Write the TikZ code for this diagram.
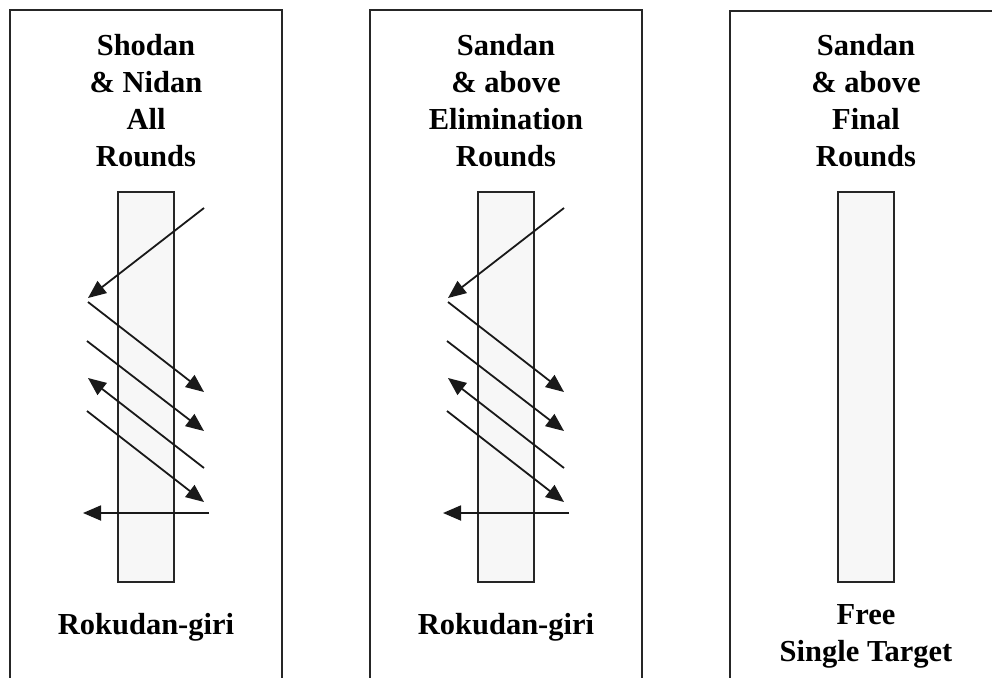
\documentclass[tikz,border=0pt]{standalone}
\usepackage{fontspec}
\setmainfont{Liberation Serif}
\usetikzlibrary{arrows.meta,positioning}
\tikzset{%
  >={Triangle[length=18pt,width=15pt]},
  % Specifications for style of nodes:
      panel/.style = {rectangle, draw=black!85, line width=2pt,
                      minimum width=272pt, minimum height=720pt,
                      anchor=north},
     target/.style = {rectangle, draw=black!85, line width=2.2pt,
                      fill=black!3, minimum width=56pt,
                      minimum height=390pt},
    caption/.style = {align=center, inner sep=0pt, anchor=base,
                      font=\bfseries\fontsize{30.5}{37}\selectfont},
        cut/.style = {->, line width=1.8pt, draw=black!90},
}

\begin{document}
\begin{tikzpicture}[x=1pt, y=-1pt]
  \useasboundingbox (0,0) rectangle (992,677);
  \clip (0,0) rectangle (992,677);
  % Specification of panels and targets
  \node (panelA)  [panel]  at (146,9)   {};
  \node (panelB)  [panel]  at (506,9)   {};
  \node (panelC)  [panel]  at (866,10)  {};
  \node (targetA) [target] at (146,387) {};
  \node (targetB) [target] at (506,387) {};
  \node (targetC) [target] at (866,387) {};
  % Headings and names of the cuts (base = last line)
  \node (headA) [caption] at (146,166) {Shodan\\ \& Nidan\\ All\\ Rounds};
  \node (headB) [caption] at (506,166) {Sandan\\ \& above\\ Elimination\\ Rounds};
  \node (headC) [caption] at (866,166) {Sandan\\ \& above\\ Final\\ Rounds};
  \node (footA) [caption] at (146,634) {Rokudan-giri};
  \node (footB) [caption] at (506,634) {Rokudan-giri};
  \node (footC) [caption] at (866,661) {Free\\ Single Target};
  % Cuts across the target, same in both first panels
  \foreach \t in {A,B} {
    \foreach \n/\sx/\sy/\ex/\ey in {1/58/-179/-58/-89, 2/-58/-85/58/5,
        3/-59/-46/58/44, 4/58/81/-58/-9, 5/-59/24/58/115, 6/63/126/-63/126} {
      \coordinate (cut\t\n s) at ([shift={(\sx,\sy)}]target\t.center);
      \coordinate (cut\t\n e) at ([shift={(\ex,\ey)}]target\t.center);
      \draw[cut] (cut\t\n s) -- (cut\t\n e);
    }
  }
\end{tikzpicture}
\end{document}
